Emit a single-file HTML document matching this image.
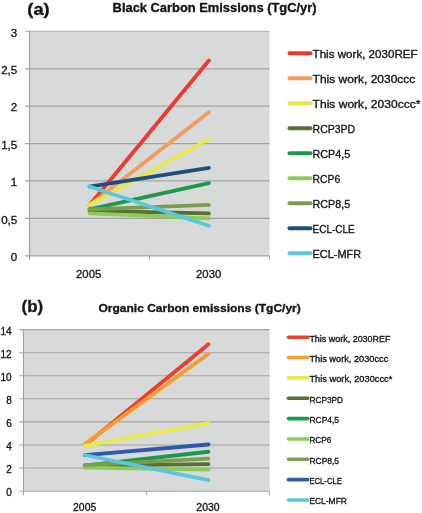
<!DOCTYPE html>
<html><head><meta charset="utf-8"><style>
html,body{margin:0;padding:0;background:#fff;}
body{width:422px;height:513px;overflow:hidden;}
svg{display:block;font-family:"Liberation Sans",sans-serif;fill:#141414;}
text{stroke:#141414;stroke-width:0.32px;}
svg{filter:grayscale(0);}
</style></head><body>
<svg width="422" height="513" viewBox="0 0 422 513">
<text x="27.3" y="14.6" font-size="16.3" font-weight="bold" textLength="22.4" lengthAdjust="spacingAndGlyphs">(a)</text>
<text x="112.6" y="12" font-size="12.4" font-weight="bold" textLength="204" lengthAdjust="spacingAndGlyphs">Black Carbon Emissions (TgC/yr)</text>
<rect x="29.5" y="31.4" width="240.0" height="224.29999999999998" fill="#d8dad9"/>
<line x1="25.0" y1="218.32" x2="269.5" y2="218.32" stroke="#a3a3a3" stroke-width="1.3"/>
<line x1="25.0" y1="180.93" x2="269.5" y2="180.93" stroke="#a3a3a3" stroke-width="1.3"/>
<line x1="25.0" y1="143.55" x2="269.5" y2="143.55" stroke="#a3a3a3" stroke-width="1.3"/>
<line x1="25.0" y1="106.17" x2="269.5" y2="106.17" stroke="#a3a3a3" stroke-width="1.3"/>
<line x1="25.0" y1="68.78" x2="269.5" y2="68.78" stroke="#a3a3a3" stroke-width="1.3"/>
<line x1="25.0" y1="31.40" x2="269.5" y2="31.40" stroke="#bababa" stroke-width="1.3"/>
<line x1="29.5" y1="30.9" x2="29.5" y2="259.7" stroke="#9c9c9c" stroke-width="1.1"/>
<line x1="25.0" y1="255.85" x2="269.5" y2="255.85" stroke="#a0a0a0" stroke-width="1.4000000000000001"/>
<line x1="149.5" y1="255.7" x2="149.5" y2="259.7" stroke="#9f9f9f" stroke-width="1"/>
<line x1="269.5" y1="255.7" x2="269.5" y2="259.7" stroke="#9f9f9f" stroke-width="1"/>
<text x="17.3" y="260.90" text-anchor="end" font-size="11.6">0</text>
<text x="17.3" y="223.52" text-anchor="end" font-size="11.6">0,5</text>
<text x="17.3" y="186.13" text-anchor="end" font-size="11.6">1</text>
<text x="17.3" y="148.75" text-anchor="end" font-size="11.6">1,5</text>
<text x="17.3" y="111.37" text-anchor="end" font-size="11.6">2</text>
<text x="17.3" y="73.98" text-anchor="end" font-size="11.6">2,5</text>
<text x="17.3" y="36.60" text-anchor="end" font-size="11.6">3</text>
<text x="88.70" y="278.3" text-anchor="middle" font-size="11.6" textLength="25.3" lengthAdjust="spacingAndGlyphs">2005</text>
<text x="208.70" y="278.3" text-anchor="middle" font-size="11.6" textLength="25.3" lengthAdjust="spacingAndGlyphs">2030</text>
<line x1="89.50" y1="205.23" x2="208.90" y2="60.56" stroke="#ec3b2e" stroke-width="3.8" stroke-linecap="round"/>
<line x1="89.50" y1="205.23" x2="208.90" y2="112.15" stroke="#f59b5c" stroke-width="3.8" stroke-linecap="round"/>
<line x1="89.50" y1="204.86" x2="208.90" y2="139.06" stroke="#e9e844" stroke-width="3.8" stroke-linecap="round"/>
<line x1="89.50" y1="210.84" x2="208.90" y2="213.46" stroke="#596f34" stroke-width="3.8" stroke-linecap="round"/>
<line x1="89.50" y1="209.34" x2="208.90" y2="183.18" stroke="#1b9a4b" stroke-width="3.8" stroke-linecap="round"/>
<line x1="89.50" y1="213.46" x2="208.90" y2="218.32" stroke="#8dcb57" stroke-width="3.8" stroke-linecap="round"/>
<line x1="89.50" y1="209.34" x2="208.90" y2="204.86" stroke="#7b9d4f" stroke-width="3.8" stroke-linecap="round"/>
<line x1="89.50" y1="186.54" x2="208.90" y2="167.85" stroke="#1f4e7b" stroke-width="3.8" stroke-linecap="round"/>
<line x1="89.50" y1="186.54" x2="208.90" y2="225.79" stroke="#5bc7df" stroke-width="3.8" stroke-linecap="round"/>
<line x1="289.5" y1="53.20" x2="310.5" y2="53.20" stroke="#ec3b2e" stroke-width="4" stroke-linecap="round"/>
<text x="312.6" y="58.10" font-size="10.3" textLength="105.0" lengthAdjust="spacingAndGlyphs">This work, 2030REF</text>
<line x1="289.5" y1="78.20" x2="310.5" y2="78.20" stroke="#f59b5c" stroke-width="4" stroke-linecap="round"/>
<text x="312.6" y="83.10" font-size="10.3" textLength="102.8" lengthAdjust="spacingAndGlyphs">This work, 2030ccc</text>
<line x1="289.5" y1="103.20" x2="310.5" y2="103.20" stroke="#e9e844" stroke-width="4" stroke-linecap="round"/>
<text x="312.6" y="108.10" font-size="10.3" textLength="107.8" lengthAdjust="spacingAndGlyphs">This work, 2030ccc*</text>
<line x1="289.5" y1="128.20" x2="310.5" y2="128.20" stroke="#596f34" stroke-width="4" stroke-linecap="round"/>
<text x="312.6" y="133.10" font-size="10.3" textLength="42.6" lengthAdjust="spacingAndGlyphs">RCP3PD</text>
<line x1="289.5" y1="153.20" x2="310.5" y2="153.20" stroke="#1b9a4b" stroke-width="4" stroke-linecap="round"/>
<text x="312.6" y="158.10" font-size="10.3" textLength="37.6" lengthAdjust="spacingAndGlyphs">RCP4,5</text>
<line x1="289.5" y1="178.20" x2="310.5" y2="178.20" stroke="#8dcb57" stroke-width="4" stroke-linecap="round"/>
<text x="312.6" y="183.10" font-size="10.3" textLength="27.6" lengthAdjust="spacingAndGlyphs">RCP6</text>
<line x1="289.5" y1="203.20" x2="310.5" y2="203.20" stroke="#7b9d4f" stroke-width="4" stroke-linecap="round"/>
<text x="312.6" y="208.10" font-size="10.3" textLength="37.6" lengthAdjust="spacingAndGlyphs">RCP8,5</text>
<line x1="289.5" y1="228.20" x2="310.5" y2="228.20" stroke="#1f4e7b" stroke-width="4" stroke-linecap="round"/>
<text x="312.6" y="233.10" font-size="10.3" textLength="42.2" lengthAdjust="spacingAndGlyphs">ECL-CLE</text>
<line x1="289.5" y1="253.20" x2="310.5" y2="253.20" stroke="#5bc7df" stroke-width="4" stroke-linecap="round"/>
<text x="312.6" y="258.10" font-size="10.3" textLength="48.4" lengthAdjust="spacingAndGlyphs">ECL-MFR</text>
<text x="21.6" y="311.6" font-size="16.8" font-weight="bold" textLength="21.6" lengthAdjust="spacingAndGlyphs">(b)</text>
<text x="98.4" y="312.2" font-size="11.2" font-weight="bold" textLength="202.4" lengthAdjust="spacingAndGlyphs">Organic Carbon emissions (TgC/yr)</text>
<rect x="23.0" y="329.6" width="246.60000000000002" height="161.5" fill="#d8dad9"/>
<line x1="19.0" y1="468.03" x2="269.6" y2="468.03" stroke="#a3a3a3" stroke-width="1.05"/>
<line x1="19.0" y1="444.96" x2="269.6" y2="444.96" stroke="#a3a3a3" stroke-width="1.05"/>
<line x1="19.0" y1="421.89" x2="269.6" y2="421.89" stroke="#a3a3a3" stroke-width="1.05"/>
<line x1="19.0" y1="398.81" x2="269.6" y2="398.81" stroke="#a3a3a3" stroke-width="1.05"/>
<line x1="19.0" y1="375.74" x2="269.6" y2="375.74" stroke="#a3a3a3" stroke-width="1.05"/>
<line x1="19.0" y1="352.67" x2="269.6" y2="352.67" stroke="#a3a3a3" stroke-width="1.05"/>
<line x1="19.0" y1="329.60" x2="269.6" y2="329.60" stroke="#a3a3a3" stroke-width="1.05"/>
<line x1="23.5" y1="329.1" x2="23.5" y2="495.1" stroke="#9c9c9c" stroke-width="1.1"/>
<line x1="19.0" y1="491.25" x2="269.6" y2="491.25" stroke="#a0a0a0" stroke-width="1.1500000000000001"/>
<line x1="146.3" y1="491.1" x2="146.3" y2="495.1" stroke="#9f9f9f" stroke-width="1"/>
<line x1="269.6" y1="491.1" x2="269.6" y2="495.1" stroke="#9f9f9f" stroke-width="1"/>
<text x="11.7" y="496.00" text-anchor="end" font-size="10">0</text>
<text x="11.7" y="472.93" text-anchor="end" font-size="10">2</text>
<text x="11.7" y="449.86" text-anchor="end" font-size="10">4</text>
<text x="11.7" y="426.79" text-anchor="end" font-size="10">6</text>
<text x="11.7" y="403.71" text-anchor="end" font-size="10">8</text>
<text x="11.7" y="380.64" text-anchor="end" font-size="10">10</text>
<text x="11.7" y="357.57" text-anchor="end" font-size="10">12</text>
<text x="11.7" y="334.50" text-anchor="end" font-size="10">14</text>
<text x="84.65" y="510.5" text-anchor="middle" font-size="10" textLength="23.2" lengthAdjust="spacingAndGlyphs">2005</text>
<text x="207.95" y="510.5" text-anchor="middle" font-size="10" textLength="23.2" lengthAdjust="spacingAndGlyphs">2030</text>
<line x1="84.65" y1="445.42" x2="208.45" y2="344.25" stroke="#ef3e2f" stroke-width="3.8" stroke-linecap="round"/>
<line x1="84.65" y1="444.38" x2="208.45" y2="353.71" stroke="#f89d2e" stroke-width="3.8" stroke-linecap="round"/>
<line x1="84.65" y1="445.76" x2="208.45" y2="423.15" stroke="#e8e94a" stroke-width="3.8" stroke-linecap="round"/>
<line x1="84.65" y1="465.72" x2="208.45" y2="464.11" stroke="#596f34" stroke-width="3.8" stroke-linecap="round"/>
<line x1="84.65" y1="465.72" x2="208.45" y2="451.76" stroke="#1b9a4b" stroke-width="3.8" stroke-linecap="round"/>
<line x1="84.65" y1="467.57" x2="208.45" y2="469.64" stroke="#8dcb57" stroke-width="3.8" stroke-linecap="round"/>
<line x1="84.65" y1="465.14" x2="208.45" y2="458.68" stroke="#7b9d4f" stroke-width="3.8" stroke-linecap="round"/>
<line x1="84.65" y1="455.11" x2="208.45" y2="444.50" stroke="#2e57ae" stroke-width="3.8" stroke-linecap="round"/>
<line x1="84.65" y1="454.99" x2="208.45" y2="480.14" stroke="#5bc7df" stroke-width="3.8" stroke-linecap="round"/>
<line x1="288.5" y1="337.20" x2="307.8" y2="337.20" stroke="#ef3e2f" stroke-width="3.6" stroke-linecap="round"/>
<text x="309.4" y="341.50" font-size="8.9" textLength="81.1" lengthAdjust="spacingAndGlyphs">This work, 2030REF</text>
<line x1="288.5" y1="357.55" x2="307.8" y2="357.55" stroke="#f89d2e" stroke-width="3.6" stroke-linecap="round"/>
<text x="309.4" y="361.85" font-size="8.9" textLength="78.9" lengthAdjust="spacingAndGlyphs">This work, 2030ccc</text>
<line x1="288.5" y1="377.90" x2="307.8" y2="377.90" stroke="#e8e94a" stroke-width="3.6" stroke-linecap="round"/>
<text x="309.4" y="382.20" font-size="8.9" textLength="82.9" lengthAdjust="spacingAndGlyphs">This work, 2030ccc*</text>
<line x1="288.5" y1="398.25" x2="307.8" y2="398.25" stroke="#596f34" stroke-width="3.6" stroke-linecap="round"/>
<text x="309.4" y="402.55" font-size="8.9" textLength="33.7" lengthAdjust="spacingAndGlyphs">RCP3PD</text>
<line x1="288.5" y1="418.60" x2="307.8" y2="418.60" stroke="#1b9a4b" stroke-width="3.6" stroke-linecap="round"/>
<text x="309.4" y="422.90" font-size="8.9" textLength="29.7" lengthAdjust="spacingAndGlyphs">RCP4,5</text>
<line x1="288.5" y1="438.95" x2="307.8" y2="438.95" stroke="#8dcb57" stroke-width="3.6" stroke-linecap="round"/>
<text x="309.4" y="443.25" font-size="8.9" textLength="22.1" lengthAdjust="spacingAndGlyphs">RCP6</text>
<line x1="288.5" y1="459.30" x2="307.8" y2="459.30" stroke="#7b9d4f" stroke-width="3.6" stroke-linecap="round"/>
<text x="309.4" y="463.60" font-size="8.9" textLength="29.7" lengthAdjust="spacingAndGlyphs">RCP8,5</text>
<line x1="288.5" y1="479.65" x2="307.8" y2="479.65" stroke="#2e57ae" stroke-width="3.6" stroke-linecap="round"/>
<text x="309.4" y="483.95" font-size="8.9" textLength="32.5" lengthAdjust="spacingAndGlyphs">ECL-CLE</text>
<line x1="288.5" y1="500.00" x2="307.8" y2="500.00" stroke="#5bc7df" stroke-width="3.6" stroke-linecap="round"/>
<text x="309.4" y="504.30" font-size="8.9" textLength="37.5" lengthAdjust="spacingAndGlyphs">ECL-MFR</text>
</svg>
</body></html>
